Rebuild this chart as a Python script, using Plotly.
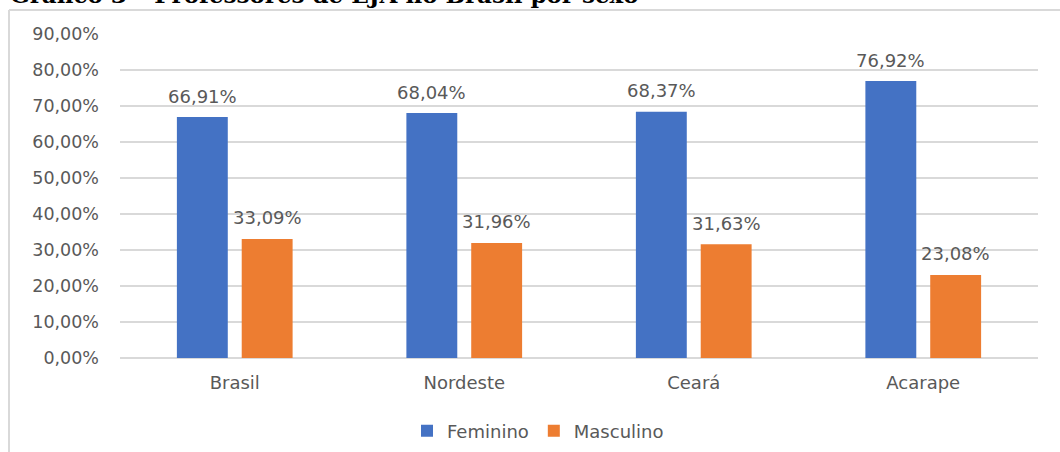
import plotly.graph_objects as go

categories = ["Brasil", "Nordeste", "Ceará", "Acarape"]
feminino = [66.91, 68.04, 68.37, 76.92]
masculino = [33.09, 31.96, 31.63, 23.08]
tick_values = [0, 10, 20, 30, 40, 50, 60, 70, 80, 90]
tick_labels = ["0,00%", "10,00%", "20,00%", "30,00%", "40,00%", "50,00%",
               "60,00%", "70,00%", "80,00%", "90,00%"]
title_text = "Gráfico 3 – Professores de EJA no Brasil por sexo"

W, H = 1060, 452
L, R, T, B = 120, 22, 34, 94
pw, ph = W - L - R, H - T - B

def px(x):
    return (x - L) / pw

def py(y):
    return 1 - (y - T) / ph

def fmt(v):
    return f"{v:.2f}%".replace(".", ",")

font_family = "DejaVu Sans, sans-serif"
label_color = "#595959"
blue, orange = "#4472C4", "#ED7D31"

fig = go.Figure()
fig.add_trace(go.Bar(name="Feminino", x=categories, y=feminino, marker_color=blue,
                     marker_line_width=0))
fig.add_trace(go.Bar(name="Masculino", x=categories, y=masculino, marker_color=orange,
                     marker_line_width=0))

annotations = []
for cat, f, m in zip(categories, feminino, masculino):
    for val, shift in ((f, -32.5), (m, 32.5)):
        annotations.append(dict(
            x=cat, y=val, xref="x", yref="y", text=fmt(val), showarrow=False,
            xshift=shift, yshift=21, xanchor="center", yanchor="middle",
            font=dict(family=font_family, size=18, color=label_color)))

annotations.append(dict(
    text="<b>" + title_text + "</b>", xref="paper", yref="paper",
    x=px(8), y=py(10), xanchor="left", yanchor="bottom", showarrow=False,
    font=dict(family="DejaVu Serif, serif", size=23, color="black")))

fig.update_layout(
    width=W, height=H,
    margin=dict(l=L, r=R, t=T, b=B, autoexpand=False),
    paper_bgcolor="white", plot_bgcolor="white",
    barmode="group", bargap=0.435, bargroupgap=0.215,
    font=dict(family=font_family, color=label_color, size=18),
    showlegend=True,
    legend=dict(orientation="h", xref="container", yref="container",
                x=538 / W, xanchor="center", y=1 - 431 / H, yanchor="middle",
                font=dict(size=18, color=label_color), itemwidth=30,
                traceorder="normal", bgcolor="rgba(0,0,0,0)"),
    xaxis=dict(showline=False, ticks="", tickfont=dict(size=18, color=label_color),
               ticklabelstandoff=12),
    yaxis=dict(range=[0, 90], tickmode="array", tickvals=tick_values, ticktext=tick_labels,
               showgrid=True, gridcolor="#d9d9d9", gridwidth=1.5, zeroline=True,
               zerolinecolor="#d9d9d9", zerolinewidth=1.5,
               tickfont=dict(size=17.5, color=label_color), ticklabelstandoff=20),
    shapes=[
        dict(type="line", xref="paper", yref="paper", x0=px(9), x1=px(1062), y0=py(10), y1=py(10),
             line=dict(color="#d9d9d9", width=2)),
        dict(type="line", xref="paper", yref="paper", x0=px(9), x1=px(9), y0=py(10), y1=py(460),
             line=dict(color="#d9d9d9", width=2)),
    ],
    annotations=annotations,
)

fig.write_html("out.html")
